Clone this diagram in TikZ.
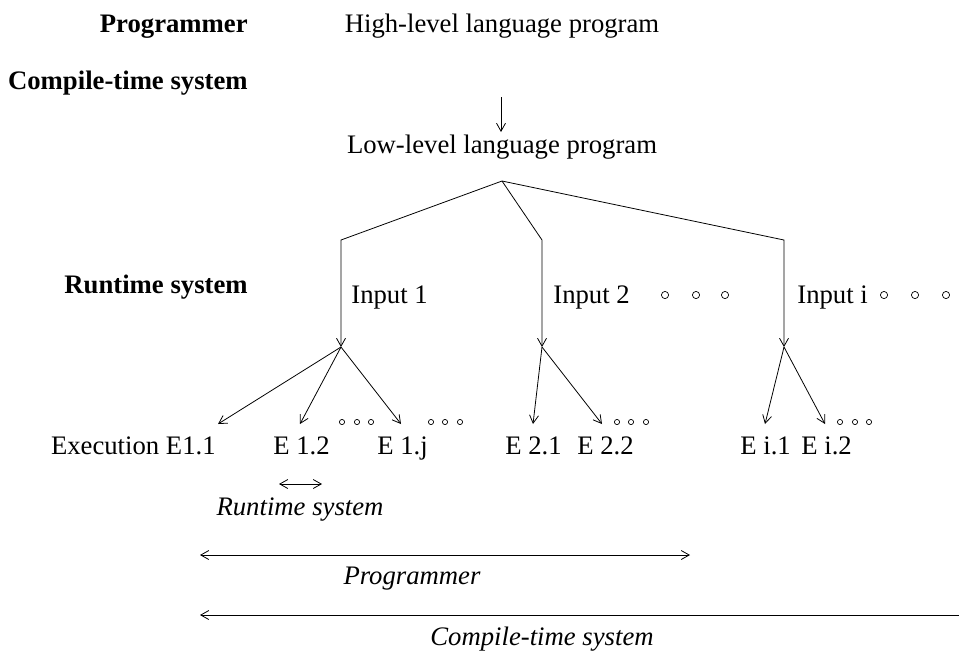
\documentclass[tikz,border=0pt]{standalone}
\usepackage{fontspec}
\setmainfont{Liberation Serif}
\usetikzlibrary{arrows.meta}

\tikzset{
    lbl/.style={inner sep=0pt, font=\fontsize{15.2}{18}\selectfont},
    side/.style={lbl, anchor=base east, font=\fontsize{15.2}{18}\selectfont\bfseries},
    span/.style={lbl, anchor=base, font=\fontsize{15.2}{18}\selectfont\itshape},
    tip/.tip={Straight Barb[length=1.6mm,width=1.8mm]},
    arr/.style={-tip, line width=0.45pt},
    both/.style={tip-tip, line width=0.45pt},
    back/.style={tip-, line width=0.45pt},
    dot/.style={line width=0.4pt}
}

\begin{document}
\begin{tikzpicture}[x=0.02cm,y=-0.02cm]
    \useasboundingbox (0,0) rectangle (959,654);

    % levels on the left
    \node[side] (lprog) at (248,32) {Programmer};
    \node[side] (lcomp) at (248,89) {Compile-time system};
    \node[side] (lrun)  at (248,293) {Runtime system};

    % programs
    \node[lbl, anchor=base] (high) at (502,32) {High-level language program};
    \node[lbl, anchor=base] (low)  at (502,153) {Low-level language program};
    \coordinate (hb) at (501,97);
    \coordinate (lt) at (501,132);
    \draw[arr] (hb) -- (lt);

    % inputs
    \coordinate (root) at (502,181);
    \coordinate (k1) at (341,240);
    \coordinate (k2) at (542,240);
    \coordinate (ki) at (784,240);
    \coordinate (in1) at (341,347);
    \coordinate (in2) at (542,347);
    \coordinate (ini) at (784,347);
    \draw[arr] (root) -- (k1) -- (in1);
    \draw[arr] (root) -- (k2) -- (in2);
    \draw[arr] (root) -- (ki) -- (ini);
    \node[lbl, anchor=base west] (input1) at (351,303) {Input 1};
    \node[lbl, anchor=base west] (input2) at (553,303) {Input 2};
    \node[lbl, anchor=base west] (inputi) at (797,303) {Input i};
    \foreach \x in {665,696,725,884,915,946}
        \draw[dot] (\x,295) circle (3.6);

    % executions
    \node[lbl, anchor=base east] (e11) at (216,454) {Execution E1.1};
    \node[lbl, anchor=base west] (e12) at (273,454) {E 1.2};
    \node[lbl, anchor=base west] (e1j) at (377,454) {E 1.j};
    \node[lbl, anchor=base west] (e21) at (505,454) {E 2.1};
    \node[lbl, anchor=base west] (e22) at (577,454) {E 2.2};
    \node[lbl, anchor=base west] (ei1) at (740,454) {E i.1};
    \node[lbl, anchor=base west] (ei2) at (801,454) {E i.2};
    \coordinate (t11) at (218,424);
    \coordinate (t12) at (300,424);
    \coordinate (t1j) at (401,424);
    \coordinate (t21) at (533,424);
    \coordinate (t22) at (602,424);
    \coordinate (ti1) at (765,424);
    \coordinate (ti2) at (825,424);
    \draw[arr] (in1) -- (t11);
    \draw[arr] (in1) -- (t12);
    \draw[arr] (in1) -- (t1j);
    \draw[arr] (in2) -- (t21);
    \draw[arr] (in2) -- (t22);
    \draw[arr] (ini) -- (ti1);
    \draw[arr] (ini) -- (ti2);
    \foreach \x in {342,357,371, 431,445,460, 617,631,646, 840,855,869}
        \draw[dot] (\x,422) circle (2.6);

    % spans
    \coordinate (r1) at (279,484);
    \coordinate (r2) at (322,484);
    \draw[both] (r1) -- (r2);
    \node[span] (srun) at (300,515) {Runtime system};
    \coordinate (p1) at (200,555);
    \coordinate (p2) at (690,555);
    \draw[both] (p1) -- (p2);
    \node[span] (sprog) at (412,584) {Programmer};
    \coordinate (c1) at (200,615);
    \coordinate (c2) at (959,615);
    \draw[back] (c1) -- (c2);
    \node[span] (scomp) at (542,645) {Compile-time system};
\end{tikzpicture}
\end{document}
